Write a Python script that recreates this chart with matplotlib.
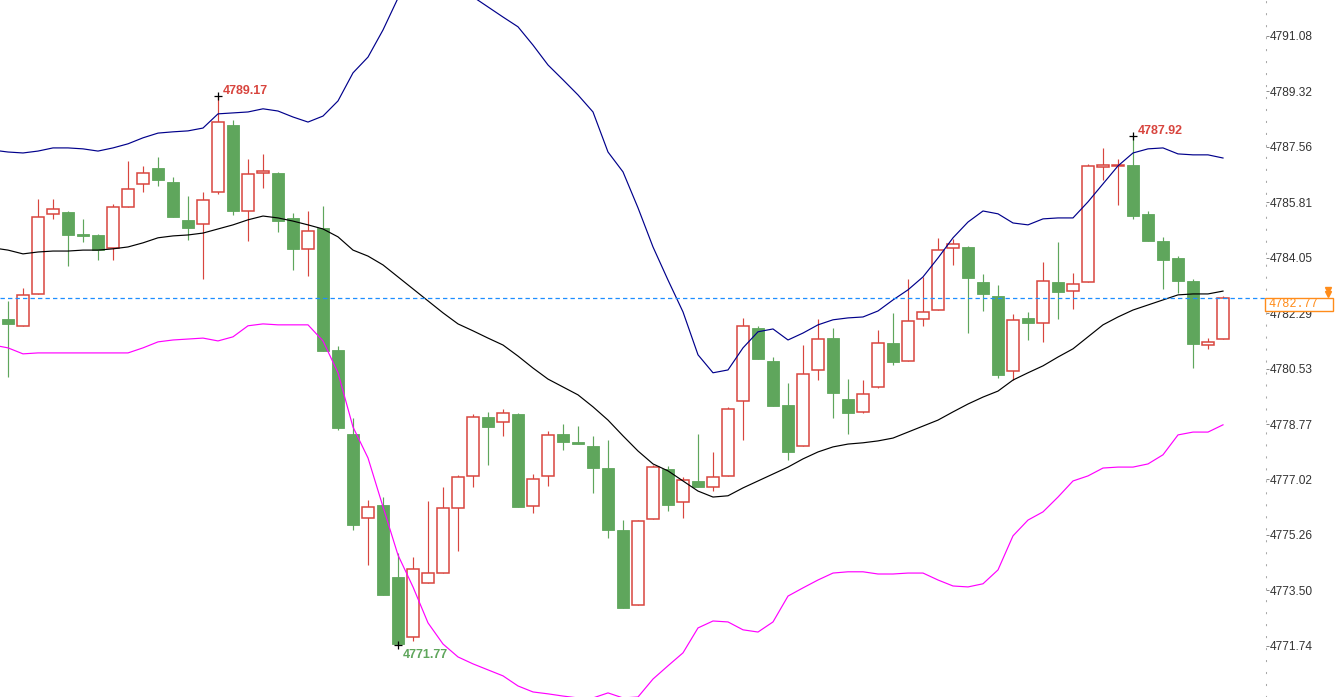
import matplotlib
matplotlib.use('Agg')
import matplotlib.pyplot as plt
import matplotlib.transforms as mtransforms
from matplotlib.patches import Rectangle

# ---------------- data ----------------
opens = [4782.11, 4781.89, 4782.89, 4785.43, 4785.49, 4784.80, 4784.77, 4784.35, 4785.65, 4786.38,
         4786.89, 4786.45, 4785.25, 4785.13, 4786.12, 4788.26, 4785.52, 4786.73, 4786.74, 4785.31,
         4784.32, 4784.99, 4781.12, 4778.46, 4775.79, 4776.21, 4773.93, 4772.03, 4773.75, 4774.04,
         4776.11, 4777.14, 4778.99, 4778.83, 4779.10, 4776.18, 4777.12, 4778.46, 4778.21, 4778.08,
         4777.38, 4775.42, 4773.04, 4775.76, 4777.35, 4776.30, 4776.97, 4776.77, 4777.12, 4779.50,
         4781.82, 4780.78, 4779.38, 4778.07, 4780.48, 4781.50, 4779.57, 4779.15, 4779.94, 4781.35,
         4780.77, 4782.10, 4782.38, 4784.35, 4784.39, 4783.28, 4782.84, 4780.45, 4782.14, 4781.97,
         4783.28, 4782.99, 4783.27, 4786.94, 4786.97, 4786.99, 4785.44, 4784.58, 4784.04, 4783.31,
         4781.27, 4781.46]
highs = [4782.69, 4783.09, 4785.91, 4785.91, 4785.53, 4785.28, 4784.80, 4785.74, 4787.13, 4786.96,
         4787.24, 4786.61, 4786.01, 4786.14, 4789.17, 4788.42, 4787.18, 4787.34, 4786.78, 4785.47,
         4785.53, 4785.69, 4781.25, 4778.96, 4776.37, 4776.47, 4774.70, 4774.57, 4776.34, 4776.79,
         4777.16, 4779.10, 4779.16, 4779.24, 4779.14, 4777.19, 4778.57, 4778.78, 4778.72, 4778.40,
         4778.27, 4775.73, 4775.73, 4777.48, 4777.45, 4777.08, 4778.46, 4777.89, 4779.31, 4782.14,
         4781.89, 4780.90, 4780.08, 4781.28, 4782.11, 4781.82, 4780.21, 4780.17, 4781.76, 4782.30,
         4783.37, 4783.45, 4784.67, 4784.64, 4784.42, 4783.53, 4783.19, 4782.27, 4782.32, 4783.91,
         4784.55, 4783.57, 4787.01, 4787.54, 4787.18, 4787.92, 4785.54, 4784.72, 4784.10, 4783.38,
         4781.50, 4782.82]
lows = [4780.28, 4781.89, 4782.89, 4785.27, 4783.77, 4784.56, 4783.98, 4783.98, 4785.65, 4786.14,
        4786.32, 4785.35, 4784.62, 4783.38, 4786.06, 4785.40, 4784.58, 4786.27, 4784.87, 4783.66,
        4783.47, 4781.10, 4778.59, 4775.42, 4774.31, 4773.36, 4771.77, 4771.88, 4773.73, 4774.04,
        4774.76, 4776.77, 4777.48, 4778.38, 4776.16, 4775.95, 4776.82, 4777.95, 4778.15, 4776.60,
        4775.17, 4772.93, 4773.04, 4775.76, 4776.03, 4775.81, 4776.79, 4776.66, 4777.12, 4778.27,
        4780.85, 4779.36, 4777.65, 4778.07, 4780.18, 4778.98, 4778.47, 4779.12, 4779.91, 4780.66,
        4780.77, 4781.89, 4782.38, 4783.83, 4781.67, 4782.37, 4780.23, 4780.17, 4781.45, 4781.39,
        4782.11, 4782.43, 4783.27, 4786.52, 4785.73, 4785.29, 4784.59, 4783.06, 4782.93, 4780.54,
        4781.15, 4781.46]
closes = [4781.96, 4782.87, 4785.34, 4785.59, 4784.78, 4784.75, 4784.30, 4785.65, 4786.22, 4786.73,
          4786.52, 4785.35, 4785.00, 4785.87, 4788.34, 4785.54, 4786.70, 4786.81, 4785.22, 4784.33,
          4784.89, 4781.10, 4778.66, 4775.58, 4776.14, 4773.36, 4771.80, 4774.17, 4774.04, 4776.11,
          4777.09, 4779.01, 4778.69, 4779.12, 4776.16, 4777.02, 4778.42, 4778.22, 4778.15, 4777.37,
          4775.42, 4772.93, 4775.70, 4777.42, 4776.22, 4776.99, 4776.79, 4777.09, 4779.24, 4781.88,
          4780.85, 4779.36, 4777.90, 4780.35, 4781.46, 4779.77, 4779.14, 4779.72, 4781.34, 4780.75,
          4782.03, 4782.32, 4784.30, 4784.48, 4783.42, 4782.89, 4780.34, 4782.07, 4781.97, 4783.30,
          4782.97, 4783.21, 4786.95, 4787.00, 4787.00, 4785.38, 4784.59, 4783.99, 4783.32, 4781.32,
          4781.37, 4782.77]

# Bollinger bands, first value belongs to the (off-screen) bar before bar 0
band_start = -1
upper_band = [4787.46,
              4787.40, 4787.37, 4787.43, 4787.53, 4787.53, 4787.50, 4787.43, 4787.53, 4787.66, 4787.85,
              4788.00, 4788.04, 4788.07, 4788.16, 4788.61, 4788.64, 4788.67, 4788.77, 4788.70, 4788.51,
              4788.35, 4788.54, 4789.02, 4789.91, 4790.41, 4791.27, 4792.28, 4792.79, 4793.01, 4793.05,
              4792.79, 4792.32, 4792.00, 4791.68, 4791.37, 4790.79, 4790.16, 4789.69, 4789.21, 4788.67,
              4787.40, 4786.77, 4785.63, 4784.39, 4783.34, 4782.33, 4780.97, 4780.40, 4780.49, 4781.19,
              4781.70, 4781.79, 4781.44, 4781.66, 4781.92, 4782.08, 4782.14, 4782.17, 4782.36, 4782.71,
              4783.03, 4783.44, 4784.04, 4784.68, 4785.18, 4785.53, 4785.44, 4785.15, 4785.09, 4785.28,
              4785.31, 4785.31, 4785.82, 4786.39, 4786.96, 4787.37, 4787.50, 4787.53, 4787.34, 4787.31,
              4787.31, 4787.21]
middle_band = [4784.36,
               4784.29, 4784.17, 4784.23, 4784.26, 4784.26, 4784.29, 4784.29, 4784.33, 4784.39, 4784.52,
               4784.68, 4784.74, 4784.77, 4784.83, 4784.96, 4785.09, 4785.25, 4785.37, 4785.31, 4785.21,
               4785.09, 4784.96, 4784.71, 4784.29, 4784.10, 4783.82, 4783.44, 4783.06, 4782.68, 4782.30,
               4781.95, 4781.73, 4781.50, 4781.28, 4780.93, 4780.55, 4780.20, 4779.95, 4779.70, 4779.32,
               4778.90, 4778.40, 4777.92, 4777.51, 4777.29, 4776.97, 4776.65, 4776.46, 4776.50, 4776.75,
               4776.97, 4777.19, 4777.41, 4777.67, 4777.89, 4778.05, 4778.14, 4778.18, 4778.24, 4778.33,
               4778.52, 4778.71, 4778.90, 4779.16, 4779.41, 4779.63, 4779.82, 4780.17, 4780.40, 4780.62,
               4780.90, 4781.16, 4781.54, 4781.92, 4782.17, 4782.39, 4782.55, 4782.71, 4782.87, 4782.90,
               4782.90, 4782.99]
lower_band = [4781.28,
              4781.19, 4781.00, 4781.03, 4781.03, 4781.03, 4781.03, 4781.03, 4781.03, 4781.03, 4781.19,
              4781.38, 4781.44, 4781.47, 4781.50, 4781.41, 4781.54, 4781.89, 4781.95, 4781.92, 4781.92,
              4781.92, 4781.41, 4780.40, 4778.68, 4777.70, 4776.15, 4774.62, 4773.61, 4772.47, 4771.80,
              4771.39, 4771.17, 4770.98, 4770.79, 4770.47, 4770.28, 4770.22, 4770.15, 4770.09, 4770.09,
              4770.25, 4770.09, 4770.12, 4770.69, 4771.11, 4771.52, 4772.31, 4772.53, 4772.50, 4772.25,
              4772.18, 4772.50, 4773.32, 4773.58, 4773.83, 4774.05, 4774.09, 4774.09, 4774.02, 4774.02,
              4774.05, 4774.05, 4773.83, 4773.64, 4773.61, 4773.71, 4774.15, 4775.23, 4775.73, 4775.99,
              4776.46, 4776.97, 4777.13, 4777.38, 4777.41, 4777.41, 4777.51, 4777.80, 4778.43, 4778.52,
              4778.52, 4778.75]

y_ticks = [4771.74, 4773.50, 4775.26, 4777.02, 4778.77, 4780.53,
           4782.29, 4784.05, 4785.81, 4787.56, 4789.32, 4791.08]
y_range = (4770.12, 4792.22)
last_price = 4782.77
# marked extremes: (bar index, which series)
marked_highs = [14, 75]
marked_lows = [26]

# ---------------- styling ----------------
RED = '#d8453e'
GREEN = '#5fa65c'
NAVY = '#00008b'
MAGENTA = '#ff00ff'
ORANGE = '#ff8c1a'
PRICE_BLUE = '#1e8fff'

W, H = 1335, 697
fig = plt.figure(figsize=(W / 100, H / 100), dpi=100)
ax = fig.add_axes([0, 0, 1266 / W, 1])
n = len(opens)
bar_px = 15.0
ax.set_xlim(-8 / bar_px, (1266 - 8) / bar_px)
ax.set_ylim(*y_range)

# candles
for i in range(n):
    o, h, l, c = opens[i], highs[i], lows[i], closes[i]
    up = c >= o
    col = RED if up else GREEN
    ax.plot([i, i], [l, h], color=col, lw=0.85, zorder=2, solid_capstyle='butt')
    lo, hi = min(o, c), max(o, c)
    if up:
        ax.add_patch(Rectangle((i - 0.37, lo), 0.74, hi - lo, facecolor='white',
                               edgecolor=col, lw=1.1, zorder=3))
    else:
        ax.add_patch(Rectangle((i - 0.4, lo), 0.8, hi - lo, facecolor=col,
                               edgecolor=col, lw=0.6, zorder=3))

# bands
bx = list(range(band_start, band_start + len(upper_band)))
ax.plot(bx, upper_band, color=NAVY, lw=0.85, zorder=4)
ax.plot(bx, middle_band, color='black', lw=0.85, zorder=4)
ax.plot(bx, lower_band, color=MAGENTA, lw=0.85, zorder=4)

# current price line
ax.axhline(last_price, color=PRICE_BLUE, lw=0.9, ls=(0, (3.5, 2.5)), zorder=5)

# extreme markers
lab_font = dict(family=['Liberation Sans', 'DejaVu Sans'], fontsize=9, fontweight='bold')
for i in marked_highs:
    ax.plot(i, highs[i], marker='+', color='black', ms=6, mew=0.9, zorder=6)
    ax.annotate(f'{highs[i]:.2f}', (i, highs[i]), xytext=(3.5, 1.5), textcoords='offset points',
                ha='left', va='baseline', color=RED, zorder=6, **lab_font)
for i in marked_lows:
    ax.plot(i, lows[i], marker='+', color='black', ms=6, mew=0.9, zorder=6)
    ax.annotate(f'{lows[i]:.2f}', (i, lows[i]), xytext=(3.5, -9.5), textcoords='offset points',
                ha='left', va='baseline', color=GREEN, zorder=6, **lab_font)

# axes styling
for s in ['top', 'left', 'bottom']:
    ax.spines[s].set_visible(False)
ax.spines['right'].set_color('#a8a8a8')
ax.spines['right'].set_linewidth(0.75)
ax.spines['right'].set_linestyle((0, (1, 10.5)))
ax.set_xticks([])
ax.yaxis.tick_right()
ax.set_yticks(y_ticks)
ax.set_yticklabels([f'{v:.2f}' for v in y_ticks])
ax.tick_params(axis='y', direction='out', length=2, width=0.7, color='#888888',
               pad=1, labelsize=8.6, labelcolor='#333333')
for t in ax.get_yticklabels():
    t.set_family(['Liberation Sans', 'DejaVu Sans'])

# current price label box
blend = mtransforms.blended_transform_factory(ax.transAxes, ax.transData)
box_h = 12.5 / 31.54
ax.add_patch(Rectangle((1265 / 1266, last_price - box_h), 68 / 1266, box_h,
                       transform=blend, facecolor='white', edgecolor=ORANGE,
                       lw=1.0, zorder=10, clip_on=False))
ax.text(1268 / 1266, last_price - box_h / 2, f'{last_price:.2f}', transform=blend,
        ha='left', va='center', color=ORANGE, fontsize=8.6,
        family=['Liberation Mono', 'DejaVu Sans Mono'], zorder=11, clip_on=False)
for dy in (0.24, 0.14):
    ax.plot([1328 / 1266], [last_price + dy], marker='v', color=ORANGE, ms=4.2,
            transform=blend, clip_on=False, zorder=11, mec=ORANGE)

fig.savefig('out.png', dpi=100, facecolor='white')
